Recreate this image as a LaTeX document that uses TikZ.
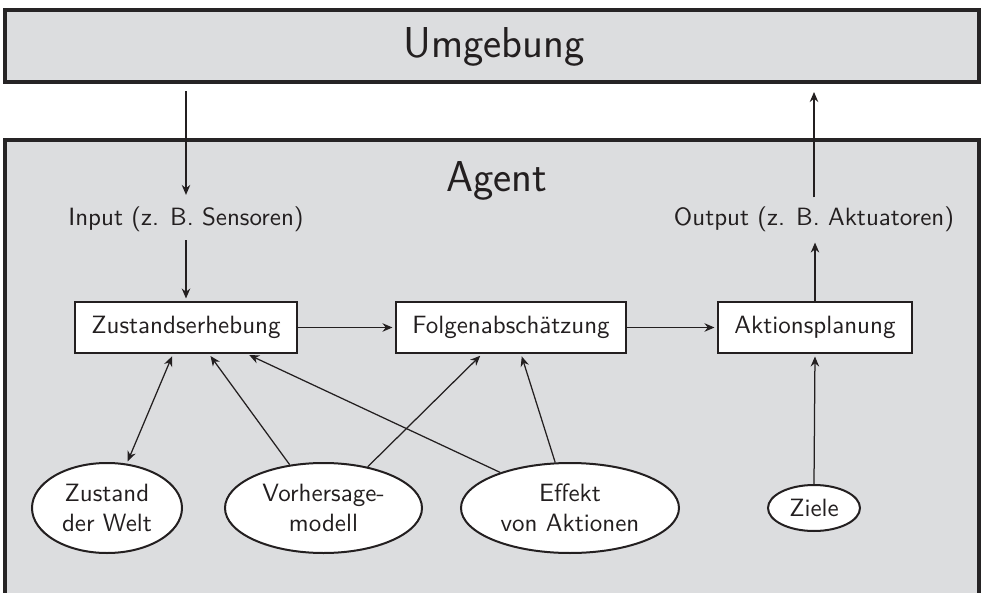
\documentclass[tikz,border=0pt]{standalone}
\usepackage{fontspec}
\usetikzlibrary{shapes.geometric,arrows.meta}
\definecolor{ink}{HTML}{231F20}
\definecolor{edge}{HTML}{262425}
\definecolor{bgfill}{HTML}{DCDDDF}
\begin{document}
\begin{tikzpicture}[x=0.4pt,y=-0.4pt,font=\sffamily,text=ink,
  envbox/.style={draw=edge,line width=1.6pt,fill=bgfill},
  procbox/.style={draw=ink,line width=0.8pt,fill=white,minimum height=20.4pt,inner sep=0pt},
  oval/.style={ellipse,draw=ink,line width=0.8pt,fill=white,inner sep=0pt,align=center},
  tip/.tip={Stealth[length=4pt,width=3.4pt,inset=1.3pt]},
  arr/.style={draw=ink,line width=0.5pt,-tip,shorten >=1pt},
  dblarr/.style={draw=ink,line width=0.5pt,tip-tip,shorten >=1pt,shorten <=1pt},
  big/.style={font=\sffamily\LARGE}]
\useasboundingbox (0,0) rectangle (981,593);
\clip (0,0) rectangle (981,593);
% environment
\node[envbox,minimum width=389.6pt,minimum height=28.8pt] (um) at (492,46) {};
\node[big,anchor=base] (umt) at (494,57) {Umgebung};
% agent container
\path[envbox] (5,140) rectangle (979,650);
\node[big,anchor=base] (ag) at (497,191) {Agent};
% texts
\node[anchor=base] (in) at (186,225) {Input (z. B. Sensoren)};
\node[anchor=base] (out) at (814,225) {Output (z. B. Aktuatoren)};
% process boxes
\node[procbox,minimum width=88.8pt] (ze) at (186,327.5) {Zustandserhebung};
\node[procbox,minimum width=92pt] (fo) at (511,327.5) {Folgenabschätzung};
\node[procbox,minimum width=77.6pt] (ak) at (815,327.5) {Aktionsplanung};
% ellipses
\node[oval,minimum width=60pt,minimum height=36pt] (zw) at (107,508) {Zustand\\der Welt};
\node[oval,minimum width=78.8pt,minimum height=36pt] (vm) at (323.5,508) {Vorhersage-\\modell};
\node[oval,minimum width=87.2pt,minimum height=36pt] (ea) at (570,508) {Effekt\\von Aktionen};
\node[oval,minimum width=36.8pt,minimum height=18.4pt] (zi) at (814,508) {Ziele};
% connectors
\draw[arr,shorten <=2.8pt] (um.south -| in.north) -- (in.north);
\draw[arr] (in.south) -- (ze.north);
\draw[arr] (ze.east) -- (fo.west);
\draw[arr] (fo.east) -- (ak.west);
\draw[arr] (ak.north) -- (ak.north |- out.south);
\draw[arr,shorten >=3.2pt] (out.north) -- (out.north |- um.south);
\draw[dblarr] (zw.66) -- ([xshift=-5.2pt]ze.south);
\draw[arr] (vm.128) -- ([xshift=9.2pt]ze.south);
\draw[arr] (vm.43) -- ([xshift=-11.6pt]fo.south);
\draw[arr] (ea.153) -- ([xshift=24.4pt]ze.south);
\draw[arr] (ea.108) -- ([xshift=4pt]fo.south);
\draw[arr] (zi.north) -- (ak.south);
\end{tikzpicture}
\end{document}
